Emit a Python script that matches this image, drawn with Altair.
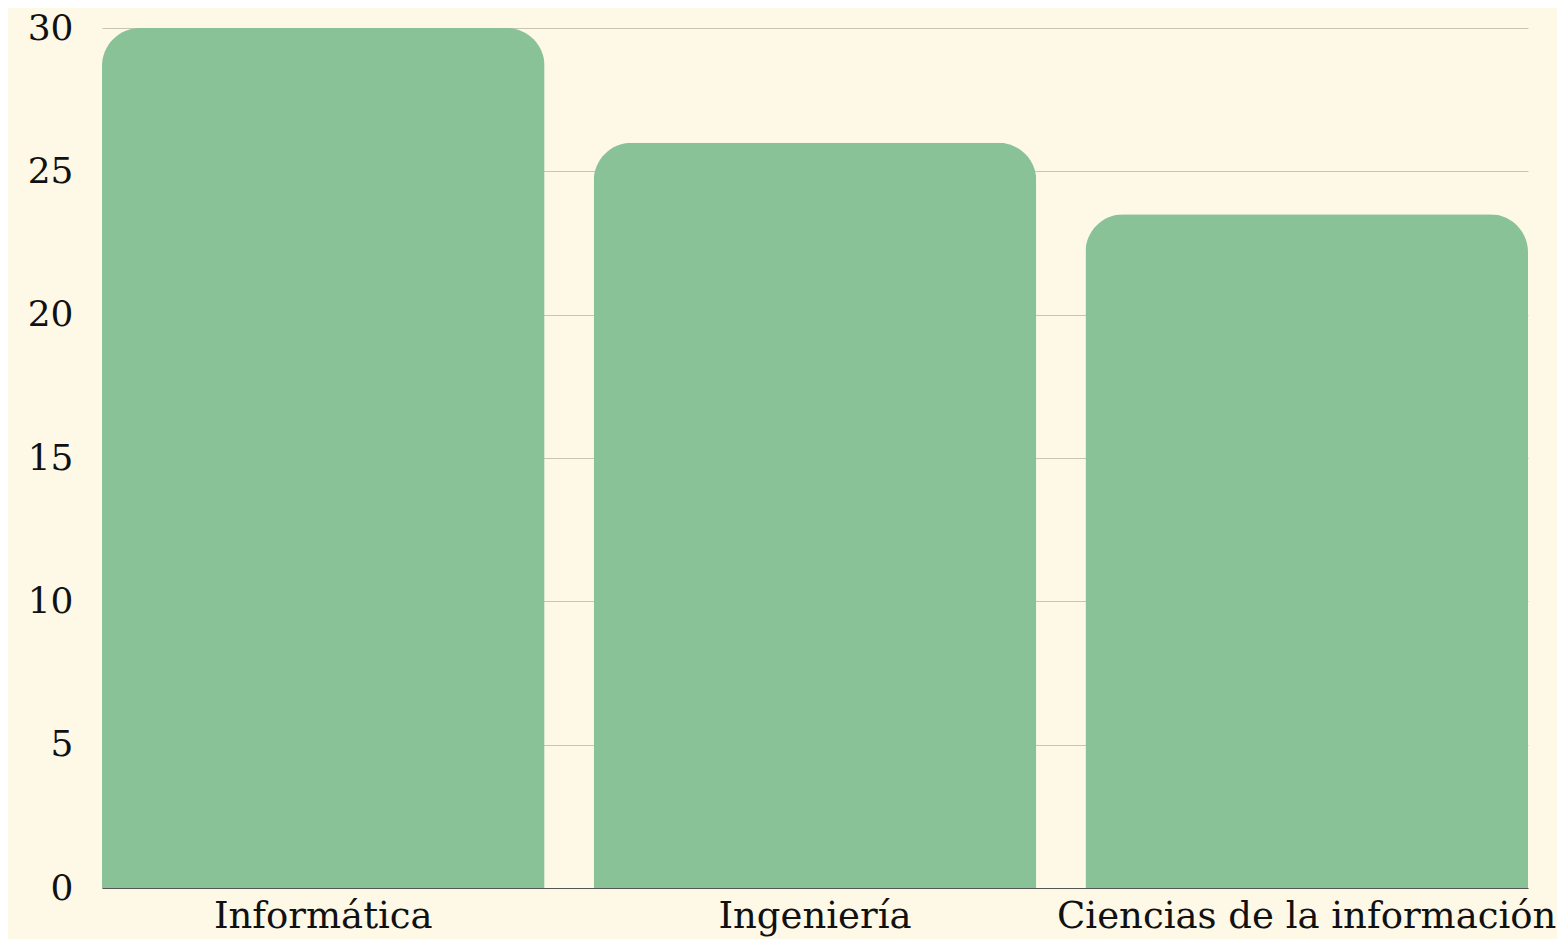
import altair as alt
import pandas as pd

categories = ["Informática", "Ingeniería", "Ciencias de la información"]
values = [30, 26, 23.5]

df = pd.DataFrame({"categoria": categories, "valor": values})

FONT = "DejaVu Serif"

chart = alt.Chart(df).mark_bar(
    color="#89C296",
    cornerRadiusTopLeft=38,
    cornerRadiusTopRight=38,
).encode(
    x=alt.X(
        "categoria:N",
        sort=categories,
        title=None,
        scale=alt.Scale(paddingInner=0.1, paddingOuter=0),
        axis=alt.Axis(
            labelAngle=0,
            labelFont=FONT,
            labelFontSize=37,
            labelColor="#111111",
            labelPadding=10,
            labelLimit=0,
            ticks=False,
            domain=True,
            domainColor="#555555",
            domainWidth=1,
            grid=False,
        ),
    ),
    y=alt.Y(
        "valor:Q",
        title=None,
        scale=alt.Scale(domain=[0, 30], nice=False),
        axis=alt.Axis(
            values=[0, 5, 10, 15, 20, 25, 30],
            labelFont=FONT,
            labelFontSize=36,
            labelColor="#111111",
            labelPadding=29,
            ticks=False,
            domain=False,
            grid=True,
            gridColor="#C9C5B3",
            gridWidth=1,
        ),
    ),
).properties(
    width=1426,
    height=860,
    background="#FEF8E7",
    padding={"left": 94, "top": 20, "right": 29, "bottom": 51},
    autosize=alt.AutoSizeParams(type="none"),
).configure_view(
    stroke=None,
)

chart.save("out.html", embed_options={"renderer": "svg", "actions": False})
